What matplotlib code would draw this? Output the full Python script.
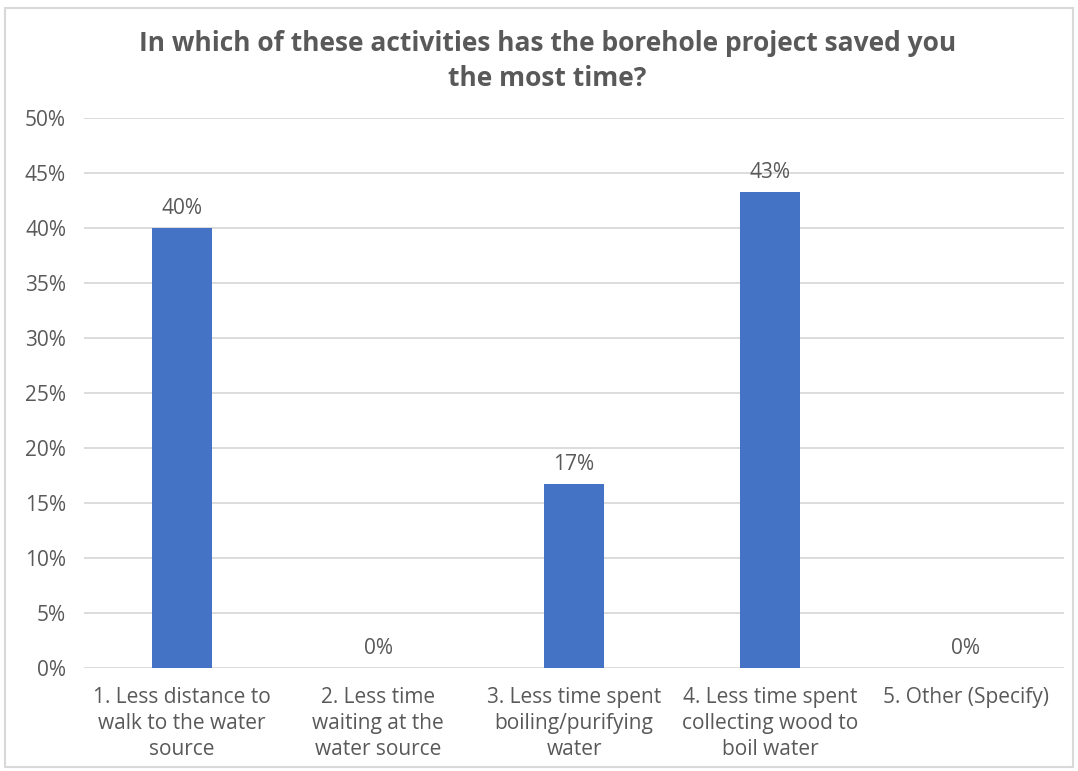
import matplotlib.pyplot as plt
from matplotlib.patches import Rectangle
from matplotlib.ticker import MultipleLocator, FuncFormatter

# Survey results
categories = [
    "1. Less distance to\nwalk to the water\nsource",
    "2. Less time\nwaiting at the\nwater source",
    "3. Less time spent\nboiling/purifying\nwater",
    "4. Less time spent\ncollecting wood to\nboil water",
    "5. Other (Specify)",
]
shares = [40.0, 0.0, 16.7, 43.3, 0.0]
bar_labels = ["40%", "0%", "17%", "43%", "0%"]

plt.rcParams['font.family'] = ['Open Sans', 'DejaVu Sans']
grey = "#595959"

fig = plt.figure(figsize=(10.78, 7.71), dpi=100)
ax = fig.add_axes([0.078, 0.134, 0.909, 0.713])

x = range(len(categories))
ax.bar(x, shares, width=0.31, color="#4472C4", zorder=3)
for xi, v, lab in zip(x, shares, bar_labels):
    ax.text(xi, v + 0.8, lab, ha="center", va="bottom", fontsize=15, color=grey)

ax.set_xlim(-0.5, len(categories) - 0.5)
ax.set_ylim(0, 50)
ax.yaxis.set_major_locator(MultipleLocator(5))
ax.yaxis.set_major_formatter(FuncFormatter(lambda v, p: f"{v:.0f}%"))
ax.grid(axis="y", color="#D9D9D9", linewidth=1.3, zorder=0)
ax.set_xticks(list(x))
ax.set_xticklabels(categories, fontsize=15, color=grey, linespacing=1.32)
ax.tick_params(axis="y", labelsize=15, labelcolor=grey, length=0, pad=13)
ax.tick_params(axis="x", length=0, pad=14)
for s in ax.spines.values():
    s.set_visible(False)

fig.text(0.508, 0.921, "In which of these activities has the borehole project saved you\nthe most time?",
         ha="center", va="center", fontsize=19, fontweight="bold", color=grey, linespacing=1.4)

fig.patches.append(Rectangle((0.005, 0.005), 0.99, 0.985, transform=fig.transFigure,
                             fill=False, edgecolor="#D9D9D9", linewidth=1.5))

fig.savefig("out.png", dpi=100)
